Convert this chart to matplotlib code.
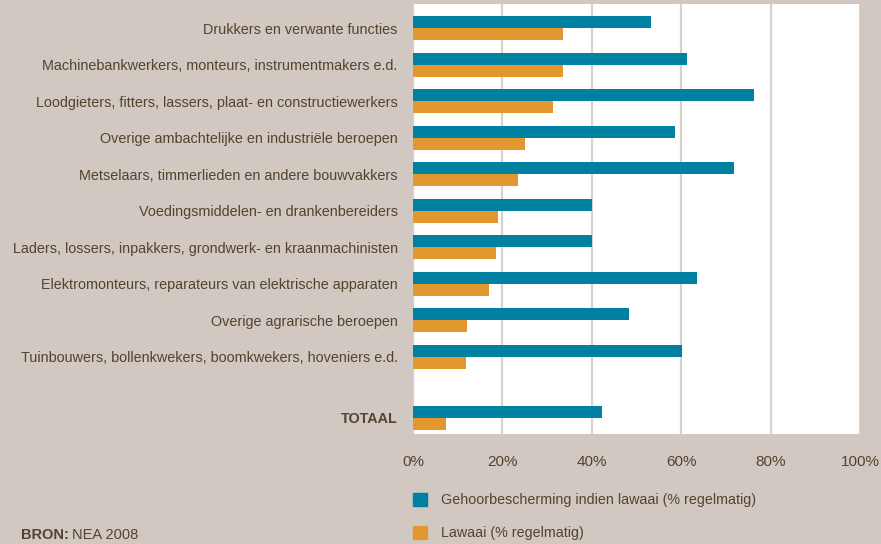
import matplotlib.pyplot as plt
from matplotlib.patches import Patch

categories = [
    'Drukkers en verwante functies',
    'Machinebankwerkers, monteurs, instrumentmakers e.d.',
    'Loodgieters, fitters, lassers, plaat- en constructiewerkers',
    'Overige ambachtelijke en industriële beroepen',
    'Metselaars, timmerlieden en andere bouwvakkers',
    'Voedingsmiddelen- en drankenbereiders',
    'Laders, lossers, inpakkers, grondwerk- en kraanmachinisten',
    'Elektromonteurs, reparateurs van elektrische apparaten',
    'Overige agrarische beroepen',
    'Tuinbouwers, bollenkwekers, boomkwekers, hoveniers e.d.',
    'TOTAAL',
]
gehoorbescherming = [53.2, 61.3, 76.3, 58.6, 71.8, 40.0, 40.0, 63.5, 48.3, 60.2, 42.3]
lawaai = [33.6, 33.6, 31.3, 25.0, 23.5, 19.0, 18.6, 17.0, 12.0, 11.9, 7.4]
xticks = [0, 20, 40, 60, 80, 100]
legend_labels = ['Gehoorbescherming indien lawaai (% regelmatig)', 'Lawaai (% regelmatig)']

bg = '#d0c8c1'
teal = '#0081a1'
orange = '#e2982e'
txt = '#54432f'
font = 'Liberation Sans'

plt.rcParams['font.family'] = font

fig = plt.figure(figsize=(8.81, 5.44), dpi=100, facecolor=bg)
ax = fig.add_axes([413 / 881, 1 - 434 / 544, 447 / 881, 430 / 544])

# totaal sits a bit apart from the rest
ypos = list(range(len(categories) - 1)) + [10.67]
h = 0.33
ax.barh([y - h / 2 for y in ypos], gehoorbescherming, height=h, color=teal, zorder=3)
ax.barh([y + h / 2 for y in ypos], lawaai, height=h, color=orange, zorder=3)

ax.set_xlim(0, 100)
ax.set_ylim(11.11, -0.66)
ax.set_xticks(xticks)
ax.set_xticklabels([f'{v}%' for v in xticks])
ax.set_yticks(ypos)
ax.set_yticklabels(categories)
for lbl in ax.get_yticklabels():
    if lbl.get_text() == 'TOTAAL':
        lbl.set_fontweight('bold')

ax.tick_params(axis='both', length=0, colors=txt, labelsize=10.4)
ax.tick_params(axis='x', pad=15, labelsize=11)
ax.tick_params(axis='y', pad=11)
ax.grid(axis='x', color='#d8d2cc', linewidth=1.6, zorder=0)
for s in ax.spines.values():
    s.set_visible(False)
ax.axvline(0, color='#e2ddd8', linewidth=1.6, zorder=1)

handles = [Patch(color=teal), Patch(color=orange)]
fig.legend(handles, legend_labels, loc='upper left',
           bbox_to_anchor=(400 / 881, 1 - 480 / 544), frameon=False,
           handlelength=1.0, handleheight=1.0, handletextpad=1.0,
           labelspacing=1.3, fontsize=10.3, labelcolor=txt)

fig.text(21 / 881, 1 - 535 / 544, 'BRON:', fontweight='bold', color=txt,
         fontsize=10.5, va='center')
fig.text(72 / 881, 1 - 535 / 544, 'NEA 2008', color=txt, fontsize=10.5, va='center')

fig.savefig('out.png', dpi=100, facecolor=bg)
